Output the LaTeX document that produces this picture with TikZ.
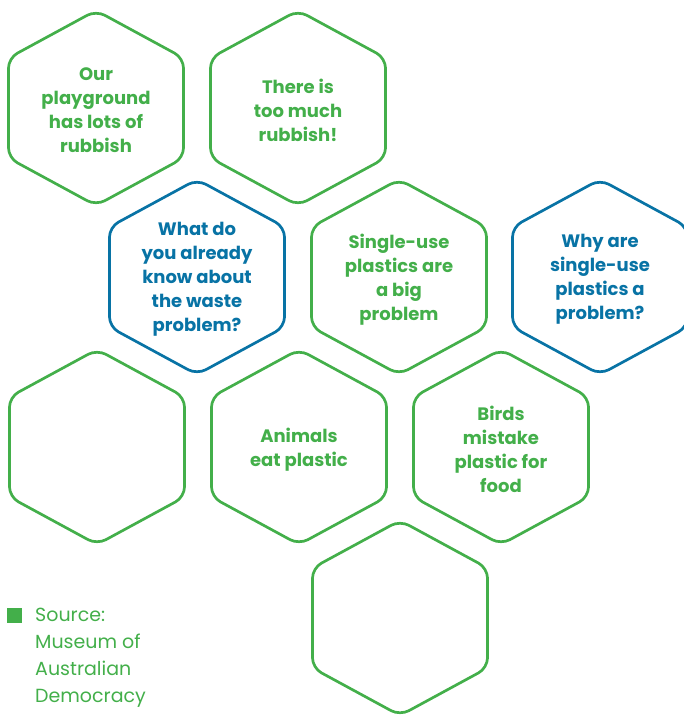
\documentclass[tikz,border=0pt]{standalone}
\usepackage{fontspec}
\setmainfont{Poppins}
\definecolor{hexgreen}{RGB}{67, 175, 74}
\definecolor{hexblue}{RGB}{8, 115, 165}
\usepackage{tikz}
\usetikzlibrary{positioning}
\tikzset{
    hexline/.style={line width=2.7pt, rounded corners=10pt},
    hextext/.style={align=center, font=\fontsize{18}{24}\selectfont\bfseries, inner sep=0pt},
    srctext/.style={align=left, font=\fontsize{19}{27}\selectfont, text=hexgreen, inner sep=0pt},
}
% one honeycomb cell: name, x, y, colour, text
\newcommand{\hexcell}[5]{%
    \draw[hexline, draw=#4, shift={(#2,#3)}] (0,-97.5) -- (87.5,-50) -- (87.5,50)
        -- (0,97.5) -- (-87.5,50) -- (-87.5,-50) -- cycle;
    \node[hextext, text=#4] (#1) at (#2,#3+2.5) {#5};
}

\begin{document}
\begin{tikzpicture}[x=1pt, y=-1pt]
    \useasboundingbox (0,0) rectangle (684,715);
    % top row
    \hexcell{playground}{96}{108}{hexgreen}{Our\\playground\\has lots of\\rubbish}
    \hexcell{toomuch}{298}{108}{hexgreen}{There is\\too much\\rubbish!}
    % second row
    \hexcell{know}{197}{277}{hexblue}{What do\\you already\\know about\\the waste\\problem?}
    \hexcell{singleuse}{399}{277}{hexgreen}{Single-use\\plastics are\\a big\\problem}
    \hexcell{why}{600}{277}{hexblue}{Why are\\single-use\\plastics a\\problem?}
    % third row
    \hexcell{blank}{97}{447}{hexgreen}{}
    \hexcell{animals}{299}{447}{hexgreen}{Animals\\eat plastic}
    \hexcell{birds}{501}{447}{hexgreen}{Birds\\mistake\\plastic for\\food}
    % bottom row
    \hexcell{empty}{400}{618}{hexgreen}{}
    % source note
    \node[fill=hexgreen, minimum size=14.5pt, inner sep=0pt] (srcmark) at (14.5,615.5) {};
    \node[srctext, anchor=north west] (source) at (35,608) {Source:\\Museum of\\Australian\\Democracy};
\end{tikzpicture}
\end{document}
